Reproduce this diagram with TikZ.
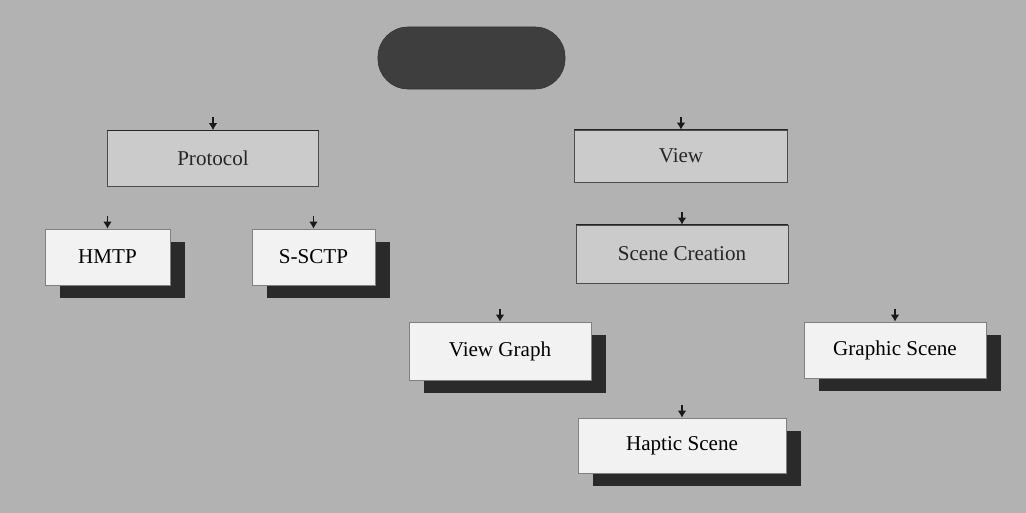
\documentclass[tikz,border=0pt]{standalone}
\usepackage{fontspec}
\setmainfont{Liberation Serif}
\usetikzlibrary{positioning, arrows.meta, shadows}
\definecolor{pageGray}{HTML}{B2B2B2}
\definecolor{boxGray}{HTML}{CBCBCB}
\definecolor{boxWhite}{HTML}{F2F2F2}
\definecolor{pillDark}{HTML}{3E3E3E}
\definecolor{shadowDark}{HTML}{2A2A2A}

\begin{document}
\begin{tikzpicture}[x=0.025cm, y=-0.025cm,
      pill/.style={rectangle, rounded corners=0.75cm, fill=pillDark, draw=black!80, minimum width=4.675cm, minimum height=1.55cm},
      graybox/.style={rectangle, fill=boxGray, draw=black!70, minimum height=1.4cm, text=black!85, font=\fontsize{15}{17}\selectfont},
      leaf/.style={rectangle, fill=boxWhite, draw=black!50, minimum height=1.4cm, text=black, font=\fontsize{15}{17}\selectfont,
        drop shadow={shadow xshift=0.375cm, shadow yshift=-0.33cm, fill=shadowDark, opacity=1}},
      stub/.style={-{Latex[length=5pt, width=6pt]}, black!90, thick}
    ]
      \fill[pageGray] (0,0) rectangle (1026,513);

      \node[pill] (top) at (471.5,58) {};

      \node[graybox, minimum width=5.275cm] (proto) at (213,158.5) {Protocol};
      \node[graybox, minimum width=5.325cm, minimum height=1.3cm] (view) at (681,156) {View};
      \node[graybox, minimum width=5.3cm, minimum height=1.45cm] (scene) at (682,254) {Scene Creation};

      \node[leaf, minimum width=3.125cm] (hmtp) at (107.5,257) {HMTP};
      \node[leaf, minimum width=3.075cm] (ssctp) at (313.5,257) {S-SCTP};
      \node[leaf, minimum width=4.55cm, minimum height=1.45cm] (vgraph) at (500,351) {View Graph};
      \node[leaf, minimum width=4.55cm] (gscene) at (895,350) {Graphic Scene};
      \node[leaf, minimum width=5.2cm, minimum height=1.375cm] (hscene) at (682,445.5) {Haptic Scene};

      % darker top edges on the gray boxes
      \foreach \target in {proto, view, scene}
        \draw[black!85, semithick] (\target.north west) -- (\target.north east);

      \foreach \target in {proto, view, scene, hmtp, ssctp, vgraph, gscene, hscene} {
        \coordinate (\target-in) at ([yshift=0.33cm]\target.north);
        \draw[stub] (\target-in) -- (\target.north);
      }
    \end{tikzpicture}
\end{document}
